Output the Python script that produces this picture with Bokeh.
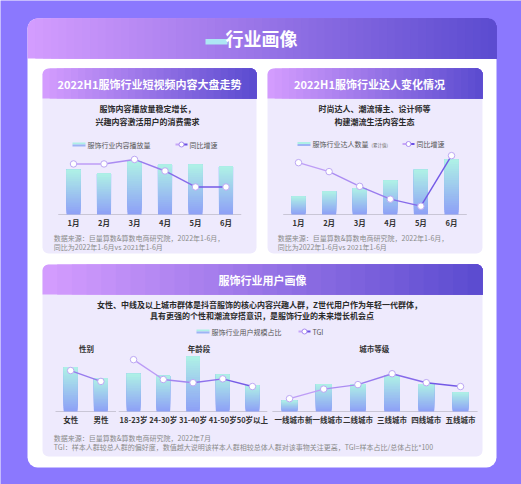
from bokeh.plotting import figure
from bokeh.models import Range1d
from bokeh.core.properties import value
from bokeh.embed import file_html
from bokeh.resources import INLINE

# ---------------- data ----------------
months = ["1月", "2月", "3月", "4月", "5月", "6月"]
views_index = [70, 64, 83, 78, 78, 75]          # 服饰行业内容播放量 (relative)
views_growth = [79, 79, 86, 68, 43, 43]         # 同比增速 (relative)
kol_index = [28, 36, 41, 53, 70, 86]            # 服饰行业达人数量 (relative)
kol_growth = [81, 67, 44, 24, 13, 92]           # 同比增速 (relative)

genders = ["女性", "男性"]
gender_share = [69, 52]
gender_tgi = [64, 47]
ages = ["18-23岁", "24-30岁", "31-40岁", "41-50岁", "50岁以上"]
age_share = [59, 56, 86, 58, 41]
age_tgi = [81, 50, 45, 51, 39]
cities = ["一线城市", "新一线城市", "二线城市", "三线城市", "四线城市", "五线城市"]
city_share = [17, 43, 43, 56, 43, 30]
city_tgi = [20, 35, 42, 59, 45, 39]

# ---------------- helpers ----------------
FONT = value("Noto Sans CJK SC")
BG = "#8B78FE"
PANEL = "#EEEAFD"
G_LEFT, G_RIGHT = "#D39CFE", "#5C4CD0"
BAR_BOT, BAR_TOP = "#8EA1F6", "#AEF0E6"
LINE_L, LINE_R = "#C7A6F8", "#6A50E4"


def rgb(h):
    h = h.lstrip("#")
    return tuple(int(h[i:i + 2], 16) for i in (0, 2, 4))


def mix(c0, c1, t):
    a, b = rgb(c0), rgb(c1)
    return "#%02x%02x%02x" % tuple(round(a[i] + (b[i] - a[i]) * t) for i in range(3))


p = figure(width=521, height=484, x_range=Range1d(0, 521), y_range=Range1d(484, 0),
           toolbar_location=None, output_backend="svg", min_border=0,
           x_axis_location=None, y_axis_location=None)
p.grid.visible = False
p.outline_line_color = None
p.background_fill_color = BG
p.border_fill_color = BG


def txt(x, y, s, size, color, bold=False, align="center"):
    p.text(x=[x], y=[y], text=[s], text_font=FONT, text_font_size=f"{size}px",
           text_color=color, text_font_style="bold" if bold else "normal",
           text_align=align, text_baseline="middle")


def hgrad(x0, x1, y0, y1, n, r):
    xs = [x0 + (x1 - x0) * k / n for k in range(n)]
    cols = [mix(G_LEFT, G_RIGHT, k / (n - 1)) for k in range(n)]
    p.quad(left=[xs[0]], right=[x1], top=[y0], bottom=[y1], fill_color=cols[0],
           line_color=None, border_radius=(r, r, 0, 0))
    p.quad(left=xs[1:], right=[x1] * (n - 1), top=[y0] * (n - 1), bottom=[y1] * (n - 1),
           fill_color=cols[1:], line_color=None, border_radius=(0, r, 0, 0))


def panel(x0, x1, y0, y1, hb, title, tx):
    p.quad(left=[x0], right=[x1], top=[y0], bottom=[y1], fill_color=PANEL,
           line_color=None, border_radius=6)
    hgrad(x0, x1, y0, hb, 30, 6)
    txt(tx, (y0 + hb) / 2, title, 11, "white", bold=True)


def legend(x, y, label, line_x, line_label, extra=None):
    p.quad(left=[x], right=[x + 13], top=[y - 2], bottom=[y], fill_color=BAR_TOP, line_color=None)
    p.quad(left=[x], right=[x + 13], top=[y], bottom=[y + 2], fill_color="#9DB4F5", line_color=None)
    txt(x + 15, y, label, 7, "#555555", align="left")
    if extra:
        txt(extra[0], y + 0.5, extra[1], 4.5, "#666666", align="left")
    p.segment(x0=[line_x], x1=[line_x + 6], y0=[y], y1=[y], line_color=LINE_L, line_width=2)
    p.segment(x0=[line_x + 6], x1=[line_x + 12], y0=[y], y1=[y], line_color=LINE_R, line_width=2)
    p.scatter(x=[line_x + 6], y=[y], size=5, fill_color="white", line_color="#A98CF2", line_width=1)
    txt(line_x + 14, y, line_label, 7, "#555555", align="left")


def chart(cats, bars, line, x0, x1, base, top_px, label_y, w=0.46, nseg=24):
    n = len(cats)
    idx = list(range(n))
    xs = Range1d(-0.5, n - 0.5)
    sub = p.subplot(x_source=xs, y_source=Range1d(0, 100),
                    x_target=Range1d(x0, x1), y_target=Range1d(base, top_px))
    sub.segment(x0=[-0.5], x1=[n - 0.5], y0=[0], y1=[0], line_color="#C9C6D6", line_width=1.2)
    bx, bb, bt, bc = [], [], [], []
    for k in range(nseg):
        c = mix(BAR_BOT, BAR_TOP, k / (nseg - 1))
        for i, v in enumerate(bars):
            bx.append(i)
            bb.append(v * k / nseg)
            bt.append(v)
            bc.append(c)
    sub.vbar(x=bx, bottom=bb, top=bt, width=w, fill_color=bc, line_color=None)
    segc = [mix(LINE_L, LINE_R, (i + 0.5) / max(n - 1, 1)) for i in range(n - 1)]
    sub.segment(x0=idx[:-1], x1=idx[1:], y0=line[:-1], y1=line[1:], line_color=segc, line_width=1.4)
    sub.scatter(x=idx, y=line, size=6.5, fill_color="white", line_color="#BCA7F4", line_width=1)
    lab = p.subplot(x_source=xs, y_source=Range1d(0, 1),
                    x_target=Range1d(x0, x1), y_target=Range1d(0, 1))
    lab.text(x=idx, y=[label_y] * n, text=cats, text_font=FONT, text_font_size="7.5px",
             text_color="#333333", text_font_style="bold", text_align="center",
             text_baseline="middle")


# ---------------- card ----------------
p.quad(left=[27], right=[496], top=[18], bottom=[467], fill_color="white",
       line_color=None, border_radius=10)
hgrad(27, 496, 18, 58, 60, 10)
p.quad(left=[205], right=[227], top=[38.5], bottom=[44], fill_color="#ADE6F4", line_color=None)
txt(261, 37.5, "行业画像", 18, "white", bold=True)

# ---------------- panel 1 ----------------
panel(42, 256, 68, 253, 98, "2022H1服饰行业短视频内容大盘走势", 149)
txt(147, 108, "服饰内容播放量稳定增长，", 8, "#2B2B2B", bold=True)
txt(147, 120.5, "兴趣内容激活用户的消费需求", 8, "#2B2B2B", bold=True)
legend(72, 144, "服饰行业内容播放量", 175, "同比增速")
chart(months, views_index, views_growth, 57.75, 240.75, 214, 150, 221.7)
txt(53.3, 237.3, "数据来源：巨量算数&算数电商研究院，2022年1-6月，", 7, "#8A8A8A", align="left")
txt(53.3, 246.3, "同比为2022年1-6月vs 2021年1-6月", 7, "#8A8A8A", align="left")

# ---------------- panel 2 ----------------
panel(267, 482, 68, 253, 98, "2022H1服饰行业达人变化情况", 369)
txt(374, 108, "时尚达人、潮流博主、设计师等", 8, "#2B2B2B", bold=True)
txt(374, 120.5, "构建潮流生活内容生态", 8, "#2B2B2B", bold=True)
legend(297, 143.5, "服饰行业达人数量", 402, "同比增速", extra=(371, "(累计值)"))
chart(months, kol_index, kol_growth, 282.7, 466.3, 214, 150, 221.7)
txt(277.3, 237.3, "数据来源：巨量算数&算数电商研究院，2022年1-6月，", 7, "#8A8A8A", align="left")
txt(277.3, 246.3, "同比为2022年1-6月vs 2021年1-6月", 7, "#8A8A8A", align="left")

# ---------------- panel 3 ----------------
panel(42, 482, 264, 456, 294, "服饰行业用户画像", 262)
txt(259, 304, "女性、中线及以上城市群体是抖音服饰的核心内容兴趣人群，Z世代用户作为年轻一代群体，",
    8, "#2B2B2B", bold=True)
txt(261.5, 314.5, "具有更强的个性和潮流穿搭意识，是服饰行业的未来增长机会点", 8, "#2B2B2B", bold=True)
legend(196, 331, "服饰行业用户规模占比", 298, "TGI")
txt(86, 347.7, "性别", 7.5, "#333333", bold=True)
txt(198.5, 347.7, "年龄段", 7.5, "#333333", bold=True)
txt(373.8, 347.7, "城市等级", 7.5, "#333333", bold=True)
chart(genders, gender_share, gender_tgi, 55, 115.5, 411, 347, 419.3)
chart(ages, age_share, age_tgi, 118.2, 266.8, 411, 347, 419.3)
chart(cities, city_share, city_tgi, 271.9, 477.1, 411, 347, 419.3)
txt(53.3, 437.7, "数据来源：巨量算数&算数电商研究院，2022年7月", 7, "#8A8A8A", align="left")
txt(53.3, 446.3, "TGI：样本人群较总人群的偏好度，数值越大说明该样本人群相较总体人群对该事物关注更高，TGI=样本占比/总体占比*100",
    7, "#8A8A8A", align="left")

open("out.html", "w").write(file_html(p, INLINE))
